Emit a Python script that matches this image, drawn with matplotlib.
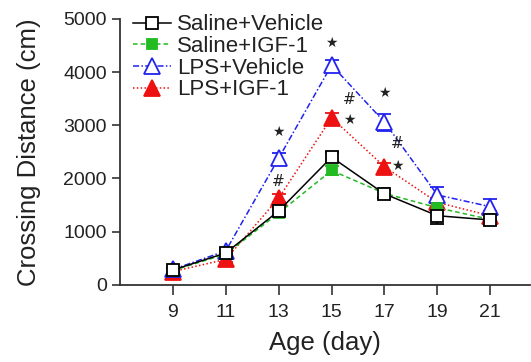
import numpy as np
import matplotlib
matplotlib.use("Agg")
import matplotlib.pyplot as plt
from matplotlib.lines import Line2D

plt.rcParams['font.family'] = ['Liberation Sans', 'DejaVu Sans']

# data
days = [9, 11, 13, 15, 17, 19, 21]
saline_vehicle = [280, 600, 1390, 2400, 1710, 1300, 1220]
saline_vehicle_err = [60, 60, 80, 90, 70, 150, 100]
saline_igf = [270, 580, 1350, 2150, 1720, 1450, 1230]
saline_igf_err = [50, 60, 60, 80, 60, 100, 80]
lps_vehicle = [290, 640, 2380, 4130, 3060, 1690, 1470]
lps_vehicle_err = [50, 60, 90, 100, 160, 150, 140]
lps_igf = [250, 480, 1630, 3140, 2220, 1550, 1300]
lps_igf_err = [50, 50, 70, 90, 80, 90, 80]

# significance marks (x, y, symbol)
marks_x = [13, 13, 15, 15.68, 15.68, 17, 17.5, 17.5]
marks_y = [2870, 1940, 4550, 3480, 3100, 3610, 2650, 2240]
marks_s = ['★', '#', '★', '#', '★', '★', '#', '★']

series = [
    ("Saline+Vehicle", saline_vehicle, saline_vehicle_err, 'black', '-', 's', 'white', 8),
    ("Saline+IGF-1", saline_igf, saline_igf_err, '#22bb22', (0, (3, 2)), 's', '#22bb22', 7),
    ("LPS+Vehicle", lps_vehicle, lps_vehicle_err, '#2222ee', (0, (4, 1.5, 1, 1.5)), '^', 'white', 11),
    ("LPS+IGF-1", lps_igf, lps_igf_err, '#ee1111', (0, (1, 1.5)), '^', '#ee1111', 11),
]

fig = plt.figure(figsize=(5.31, 3.62), dpi=100)
ax = fig.add_axes([0.226, 0.213, 0.772, 0.735])

# draw in reverse so the black squares sit on top
handles = {}
for name, vals, err, col, ls, mk, mfc, ms in reversed(series):
    ax.errorbar(days, vals, yerr=err, color=col, linestyle=ls, linewidth=1.1,
                marker=mk, markersize=ms, markerfacecolor=mfc, markeredgecolor=col,
                markeredgewidth=1.3, capsize=5, elinewidth=1.1, capthick=1.1)
    handles[name] = Line2D([], [], color=col, linestyle=ls, linewidth=1.1,
                           marker=mk, markersize=ms, markerfacecolor=mfc,
                           markeredgecolor=col, markeredgewidth=1.3)

for x, y, s in zip(marks_x, marks_y, marks_s):
    ax.text(x, y, s, ha='center', va='center', fontsize=11 if s == '#' else 10,
            color='#222222', family=['DejaVu Sans'])

ax.set_xlim(7, 22.5)
ax.set_ylim(0, 5000)
ax.set_xticks(days)
ax.set_yticks([0, 1000, 2000, 3000, 4000, 5000])
ax.tick_params(labelsize=14, colors='#333333', length=6, width=1.2, direction='out')
ax.tick_params(axis='x', length=7, pad=7)
for lab in ax.get_xticklabels() + ax.get_yticklabels():
    lab.set_color('#222222')
for side in ['top', 'right']:
    ax.spines[side].set_visible(False)
for side in ['left', 'bottom']:
    ax.spines[side].set_linewidth(1.3)
    ax.spines[side].set_color('#333333')

ax.set_xlabel("Age (day)", fontsize=18.5, color='#222222', labelpad=7)
ax.set_ylabel("Crossing Distance (cm)", fontsize=18.5, color='#222222', labelpad=16)

names = [s[0] for s in series]
leg = ax.legend([handles[n] for n in names], names, loc='upper left',
                bbox_to_anchor=(0.01, 1.05), frameon=False, fontsize=16,
                handlelength=1.7, handletextpad=0.3, labelspacing=0.03,
                borderaxespad=0)
for t in leg.get_texts():
    t.set_color('#222222')

fig.savefig("out.png", dpi=100)
